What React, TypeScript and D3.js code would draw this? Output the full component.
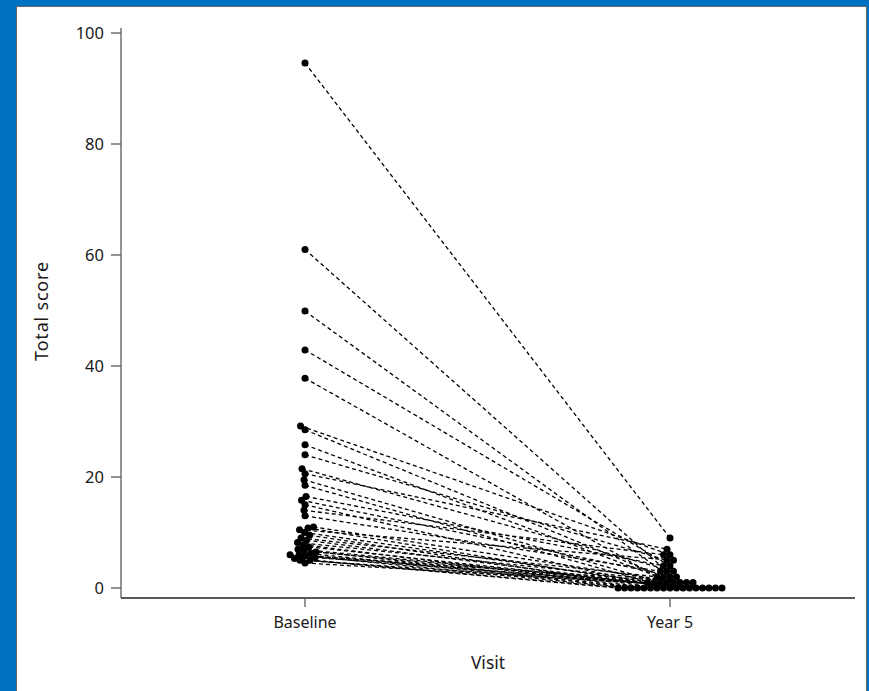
import React from "react";
import * as d3 from "d3";

const visits = ["Baseline", "Year 5"];
const yTicks = [0, 20, 40, 60, 80, 100];

const baselineScores = [
  94.6, 61, 49.9, 42.9, 37.8, 29.2, 28.5, 25.8, 24, 21.5, 20.6, 19.5, 18.5, 16.5, 15.8, 15, 14, 13,
  11, 10.8, 10.5, 10, 9.5, 9, 8.6, 8.2, 7.8, 7.4, 7, 6.8, 6.5, 6.2, 6, 6, 5.8, 5.5, 5.3, 5, 5, 4.5,
];
const year5Scores = [
  9, 3, 2, 4, 1, 6, 2, 1, 5, 3, 7, 1, 0, 4, 2, 0, 6, 3,
  1, 0, 5, 1, 0, 2, 0, 1, 0, 0, 1, 0, 0, 0, 0, 1, 0, 0, 0, 0, 0, 0,
];

const W = 869;
const H = 691;
const R = 3.5;

function swarm(values: number[], cx: number, y: (v: number) => number, minD: number): number[] {
  const order = values.map((_, i) => i).sort((a, b) => values[a] - values[b]);
  const placed: { x: number; y: number }[] = [];
  const xs: number[] = new Array(values.length);
  for (const i of order) {
    const py = y(values[i]);
    let chosen = cx;
    for (let k = 0; k < 800; k++) {
      const off = (k % 2 === 0 ? 1 : -1) * Math.ceil(k / 2) * 0.5;
      const px = cx + off;
      const ok = placed.every((p) => (p.x - px) ** 2 + (p.y - py) ** 2 >= minD * minD - 0.01);
      if (ok) {
        chosen = px;
        break;
      }
    }
    placed.push({ x: chosen, y: py });
    xs[i] = chosen;
  }
  return xs;
}

export default function App() {
  const x = d3.scalePoint<string>().domain(visits).range([305, 670]);
  const y = d3.scaleLinear().domain([0, 100]).range([588, 33]);
  const bx = swarm(baselineScores, x(visits[0])!, y, 2 * R * 0.8);
  const fx = swarm(year5Scores, x(visits[1])!, y, 6.2);
  const font = "'Noto Sans', sans-serif";
  const axisColor = "#595959";
  const textColor = "#1a1a1a";

  return (
    <svg width={W} height={H} style={{ position: "absolute", left: 0, top: 0 }}>
      <rect x={0} y={0} width={W} height={H} fill="#0070C0" />
      <rect x={16.5} y={6.5} width={850} height={H} fill="#ffffff" stroke="#666" strokeWidth={1} />
      {baselineScores.map((b, i) => (
        <line
          key={"l" + i}
          x1={bx[i]}
          y1={y(b)}
          x2={fx[i]}
          y2={y(year5Scores[i])}
          stroke="#000"
          strokeWidth={1.3}
          strokeDasharray="4 3"
        />
      ))}
      {baselineScores.map((b, i) => (
        <circle key={"b" + i} cx={bx[i]} cy={y(b)} r={R} fill="#000" />
      ))}
      {year5Scores.map((v, i) => (
        <circle key={"f" + i} cx={fx[i]} cy={y(v)} r={R} fill="#000" />
      ))}
      <line x1={121} x2={121} y1={28} y2={598} stroke={axisColor} strokeWidth={1.3} />
      {yTicks.map((t) => (
        <g key={"yt" + t}>
          <line x1={111} x2={121} y1={y(t)} y2={y(t)} stroke={axisColor} strokeWidth={1.3} />
          <text x={104} y={y(t)} dy="0.35em" textAnchor="end" fontFamily={font} fontSize={16.5} fill={textColor}>
            {t}
          </text>
        </g>
      ))}
      <line x1={121} x2={855} y1={598} y2={598} stroke={axisColor} strokeWidth={2} />
      {visits.map((v) => (
        <g key={"xt" + v}>
          <line x1={x(v)} x2={x(v)} y1={598} y2={607} stroke={axisColor} strokeWidth={1.3} />
          <text x={x(v)} y={622} dy="0.35em" textAnchor="middle" fontFamily={font} fontSize={16} fill={textColor}>
            {v}
          </text>
        </g>
      ))}
      <text x={488} y={663} dy="0.35em" textAnchor="middle" fontFamily={font} fontSize={17.5} fill={textColor}>
        Visit
      </text>
      <text
        transform={`translate(42,311) rotate(-90)`}
        dy="0.35em"
        textAnchor="middle"
        fontFamily={font}
        fontSize={18}
        letterSpacing={0.8}
        fill={textColor}
      >
        Total score
      </text>
    </svg>
  );
}
